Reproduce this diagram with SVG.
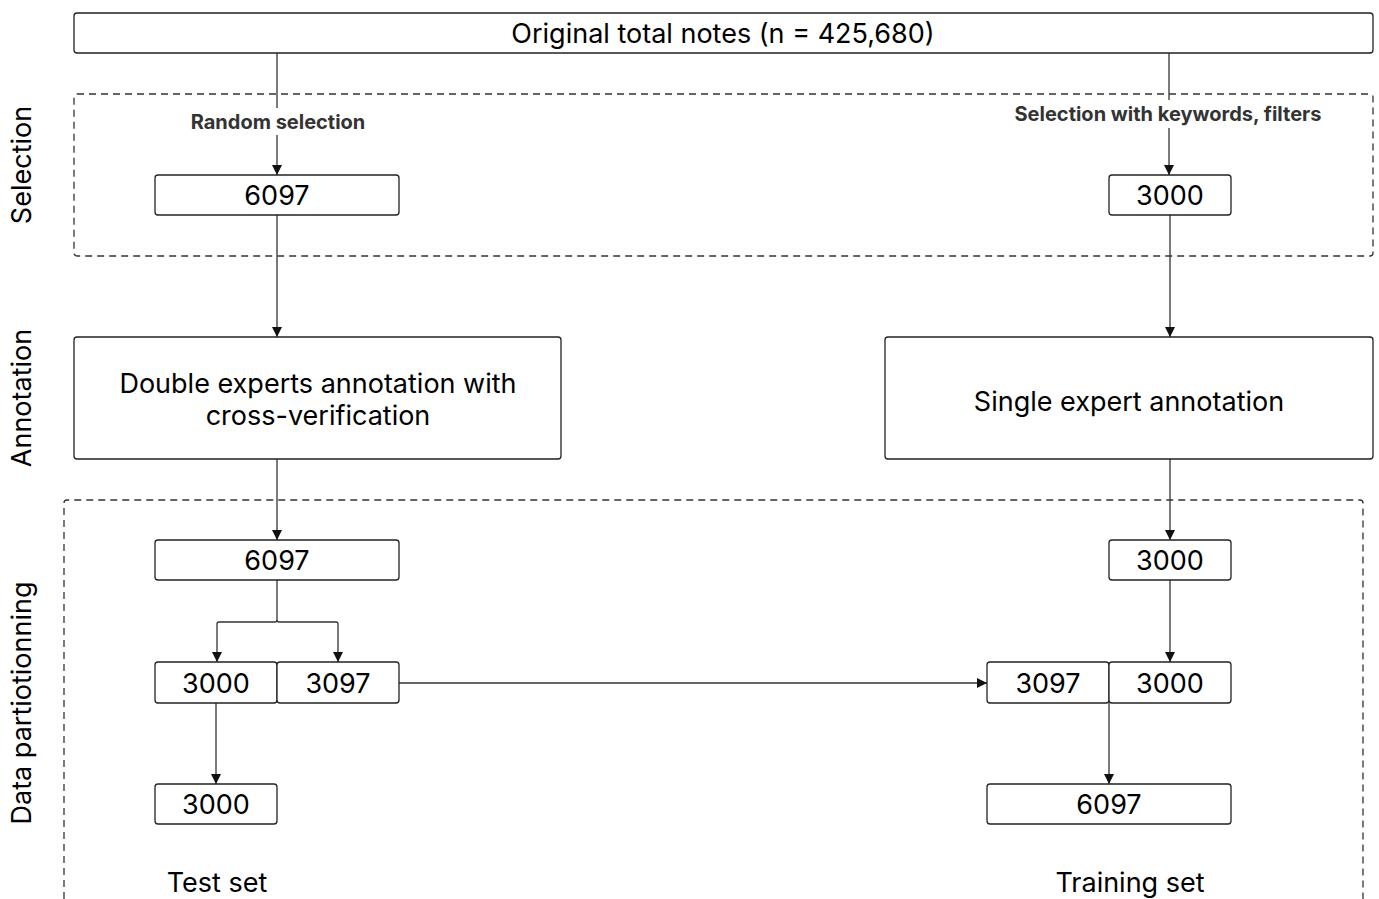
<svg xmlns="http://www.w3.org/2000/svg" width="1379" height="899" viewBox="0 0 1379 899">
<style>
.box{fill:#fff;stroke:#222;stroke-width:1.3}
.dash{fill:none;stroke:#333;stroke-width:1.3;stroke-dasharray:7 5}
.ln{fill:none;stroke:#333;stroke-width:1.3}
.t{font-family:Inter,"Liberation Sans",sans-serif;font-size:27px;fill:#000;text-anchor:middle;dominant-baseline:central}
.lbl{font-family:Inter,"Liberation Sans",sans-serif;font-size:20px;font-weight:700;fill:#333;text-anchor:middle;dominant-baseline:central}
.side{font-family:Inter,"Open Sans",sans-serif;font-size:27px;fill:#000;text-anchor:middle;dominant-baseline:central}
</style>
<defs>
<marker id="ah" viewBox="0 0 10 10" refX="10" refY="5" markerWidth="10" markerHeight="10" markerUnits="userSpaceOnUse" orient="auto">
<path d="M0,0 L10,5 L0,10 z" fill="#111"/>
</marker>
</defs>
<rect width="1379" height="899" fill="#fff"/>
<g id="groups">
<rect class="dash" x="74" y="94" width="1299" height="162" rx="3"/>
<path class="dash" d="M64,899 V503 Q64,500 67,500 H1360 Q1363,500 1363,503 V899"/>
<text class="side" transform="translate(21,165) rotate(-90)">Selection</text>
<text class="side" transform="translate(21,398) rotate(-90)">Annotation</text>
<text class="side" transform="translate(21,703) rotate(-90)">Data partiotionning</text>
</g>
<g id="connectors">
<path class="ln" d="M277,53 V108"/>
<path class="ln" d="M277,135 V175" marker-end="url(#ah)"/>
<path class="ln" d="M1169,53 V100"/>
<path class="ln" d="M1169,128 V175" marker-end="url(#ah)"/>
<path class="ln" d="M277,215 V337" marker-end="url(#ah)"/>
<path class="ln" d="M1170,215 V337" marker-end="url(#ah)"/>
<path class="ln" d="M277,459 V540" marker-end="url(#ah)"/>
<path class="ln" d="M1170,459 V540" marker-end="url(#ah)"/>
<path class="ln" d="M277,580 V620 Q277,622 275,622 H219 Q217,622 217,624 V662" marker-end="url(#ah)"/>
<path class="ln" d="M277,620 Q277,622 279,622 H336 Q338,622 338,624 V662" marker-end="url(#ah)"/>
<path class="ln" d="M1170,580 V662" marker-end="url(#ah)"/>
<path class="ln" d="M399,683 H987" marker-end="url(#ah)"/>
<path class="ln" d="M216,703 V784" marker-end="url(#ah)"/>
<path class="ln" d="M1109,703 V784" marker-end="url(#ah)"/>
<text class="lbl" x="278" y="122">Random selection</text>
<text class="lbl" x="1168" y="114">Selection with keywords, filters</text>
</g>
<g id="n-original"><rect class="box" x="74" y="13" width="1299" height="40" rx="3"/><text class="t" x="723" y="33">Original total notes (n = 425,680)</text></g>
<g id="n-sel-left"><rect class="box" x="155" y="175" width="244" height="40" rx="3"/><text class="t" x="277" y="195">6097</text></g>
<g id="n-sel-right"><rect class="box" x="1109" y="175" width="122" height="40" rx="3"/><text class="t" x="1170" y="195">3000</text></g>
<g id="n-ann-left"><rect class="box" x="74" y="337" width="487" height="122" rx="3"/><text class="t" x="318" y="383">Double experts annotation with</text><text class="t" x="318" y="415">cross-verification</text></g>
<g id="n-ann-right"><rect class="box" x="885" y="337" width="488" height="122" rx="3"/><text class="t" x="1129" y="401">Single expert annotation</text></g>
<g id="n-part-left"><rect class="box" x="155" y="540" width="244" height="40" rx="3"/><text class="t" x="277" y="560">6097</text></g>
<g id="n-part-right"><rect class="box" x="1109" y="540" width="122" height="40" rx="3"/><text class="t" x="1170" y="560">3000</text></g>
<g id="n-split-3000"><rect class="box" x="155" y="662" width="122" height="41" rx="3"/><text class="t" x="216" y="683">3000</text></g>
<g id="n-split-3097"><rect class="box" x="277" y="662" width="122" height="41" rx="3"/><text class="t" x="338" y="683">3097</text></g>
<g id="n-merge-3097"><rect class="box" x="987" y="662" width="122" height="41" rx="3"/><text class="t" x="1048" y="683">3097</text></g>
<g id="n-merge-3000"><rect class="box" x="1109" y="662" width="122" height="41" rx="3"/><text class="t" x="1170" y="683">3000</text></g>
<g id="n-test"><rect class="box" x="155" y="784" width="122" height="40" rx="3"/><text class="t" x="216" y="804">3000</text></g>
<g id="n-train"><rect class="box" x="987" y="784" width="244" height="40" rx="3"/><text class="t" x="1109" y="804">6097</text></g>
<g id="captions">
<text class="t" x="217" y="882">Test set</text>
<text class="t" x="1130" y="882">Training set</text>
</g>
</svg>
